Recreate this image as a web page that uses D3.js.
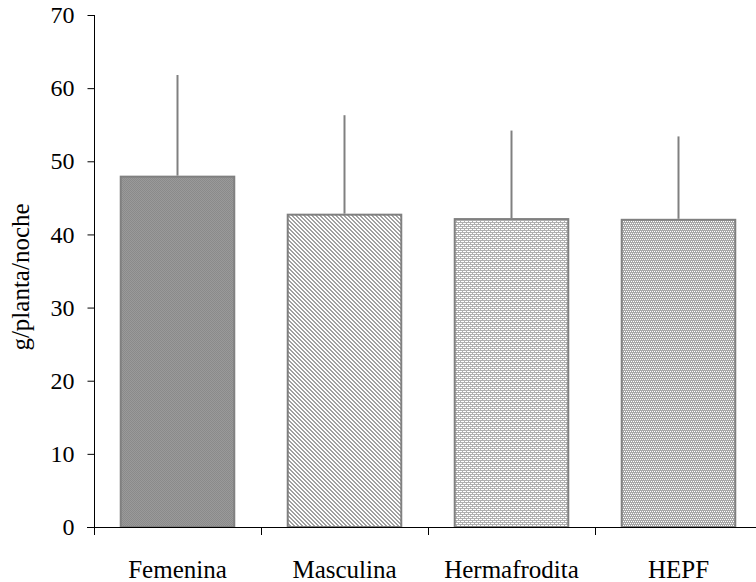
<!DOCTYPE html>
<html>
<head>
<meta charset="utf-8">
<script src="https://cdn.jsdelivr.net/npm/d3@7"></script>
<style>
  html, body { margin: 0; padding: 0; background: #fff; }
  svg { display: block; }
</style>
</head>
<body>
<svg id="chart" width="756" height="582"></svg>
<script>
// categories and values
const categories = ['Femenina', 'Masculina', 'Hermafrodita', 'HEPF'];
const means = [47.9, 42.7, 42.1, 42.0];
const errTops = [61.8, 56.3, 54.2, 53.4];
const yTicks = [0, 10, 20, 30, 40, 50, 60, 70];

const svg = d3.select('#chart');
const serif = '"Liberation Serif", "DejaVu Serif", serif';

// plot box
const plotLeft = 94, plotTop = 15, plotBottom = 527;
const bandW = 167;
const plotRight = plotLeft + bandW * categories.length;

let yScale = d3.scaleLinear()
    .domain([0, 70])
    .range([plotBottom, plotTop]);

let xScale = d3.scaleBand()
    .domain(categories)
    .range([plotLeft, plotRight])
    .paddingInner(0.32)
    .paddingOuter(0.16);

// fill patterns, one per bar
const defs = svg.append('defs');
function makePattern(id, size, bg, fg, cells){
    let p = defs.append('pattern')
        .attr('id', id)
        .attr('patternUnits', 'userSpaceOnUse')
        .attr('width', size).attr('height', size);
    p.append('rect').attr('width', size).attr('height', size).attr('fill', bg);
    cells.forEach(c => {
        p.append('rect').attr('x', c[0]).attr('y', c[1])
            .attr('width', 1).attr('height', 1).attr('fill', fg);
    });
}
// dark dotted
makePattern('pFem', 2, '#9a9a9a', '#8a8a8a', [[0,0],[1,1]]);
// diagonal small checks
makePattern('pMas', 4, '#ffffff', '#a0a0a0',
    [[0,0],[1,0],[1,1],[2,1],[2,2],[3,2],[3,3],[0,3]]);
// horizontal bricks
makePattern('pHer', 4, '#ffffff', '#b0b0b0',
    [[0,0],[1,0],[2,0],[3,0],[0,1],[0,2],[1,2],[2,2],[3,2],[2,3]]);
// grid
makePattern('pHep', 4, '#ffffff', '#a8a8a8',
    [[0,0],[1,0],[2,0],[3,0],[0,1],[2,1],[0,2],[1,2],[2,2],[3,2],[1,3],[3,3]]);
const fills = ['url(#pFem)', 'url(#pMas)', 'url(#pHer)', 'url(#pHep)'];

// bars
svg.append('g').selectAll('rect')
    .data(categories)
    .enter()
    .append('rect')
        .attr('x', d => xScale(d))
        .attr('y', (d, i) => yScale(means[i]))
        .attr('width', xScale.bandwidth())
        .attr('height', (d, i) => yScale(0) - yScale(means[i]))
        .attr('fill', (d, i) => fills[i])
        .attr('stroke', '#808080')
        .attr('stroke-width', 2);

// upper error bars, no caps
svg.append('g').selectAll('line')
    .data(categories)
    .enter()
    .append('line')
        .attr('x1', d => xScale(d) + xScale.bandwidth() / 2)
        .attr('x2', d => xScale(d) + xScale.bandwidth() / 2)
        .attr('y1', (d, i) => yScale(means[i]) - 1)
        .attr('y2', (d, i) => yScale(errTops[i]))
        .attr('stroke', '#808080')
        .attr('stroke-width', 2);

// y axis
let yAxis = svg.append('g')
    .attr('transform', 'translate(' + (plotLeft + 0.5) + ',0)')
    .call(d3.axisLeft(yScale).tickValues(yTicks).tickSize(7).tickPadding(13).tickSizeOuter(0));
yAxis.select('.domain').remove();
yAxis.append('line')
    .attr('x1', 0).attr('x2', 0)
    .attr('y1', plotTop).attr('y2', plotBottom + 8)
    .attr('stroke', '#000');
yAxis.selectAll('.tick line').attr('stroke', '#000');
yAxis.selectAll('.tick text')
    .attr('font-family', serif)
    .attr('font-size', 24)
    .attr('fill', '#000');

// x axis: line plus ticks on category boundaries
let xAxis = svg.append('g');
xAxis.append('line')
    .attr('x1', plotLeft - 7).attr('x2', 756)
    .attr('y1', plotBottom + 0.5).attr('y2', plotBottom + 0.5)
    .attr('stroke', '#000');
xAxis.selectAll('line.sep')
    .data(categories.slice(1))
    .enter()
    .append('line')
        .attr('class', 'sep')
        .attr('x1', d => Math.round(xScale(d) - xScale.step() * xScale.paddingInner() / 2) + 0.5)
        .attr('x2', d => Math.round(xScale(d) - xScale.step() * xScale.paddingInner() / 2) + 0.5)
        .attr('y1', plotBottom)
        .attr('y2', plotBottom + 8)
        .attr('stroke', '#000');
xAxis.selectAll('text')
    .data(categories)
    .enter()
    .append('text')
        .attr('x', d => xScale(d) + xScale.bandwidth() / 2)
        .attr('y', 578)
        .attr('text-anchor', 'middle')
        .attr('font-family', serif)
        .attr('font-size', 25)
        .text(d => d);

// y axis title
svg.append('text')
    .attr('transform', 'translate(29,277) rotate(-90)')
    .attr('text-anchor', 'middle')
    .attr('font-family', serif)
    .attr('font-size', 25)
    .text('g/planta/noche');
</script>
</body>
</html>
